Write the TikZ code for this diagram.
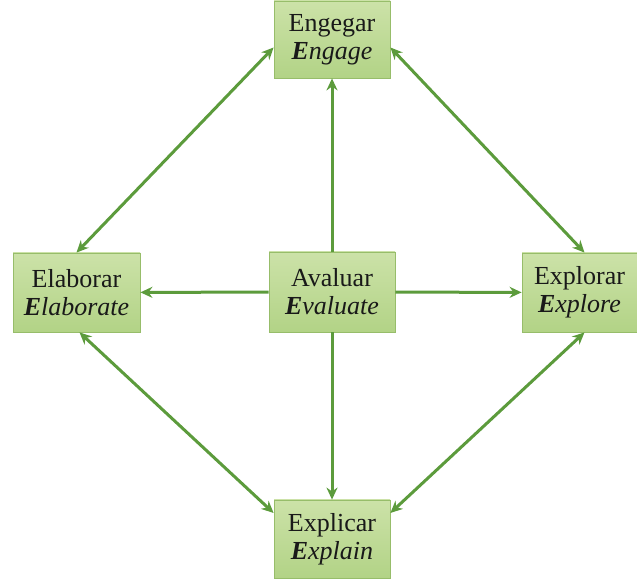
\documentclass[tikz,border=0pt]{standalone}
\usepackage{fontspec}
\setmainfont{Liberation Serif}
\usepackage{tikz}
\usetikzlibrary{arrows.meta, positioning}

\definecolor{boxtop}{HTML}{CCE2A8}
\definecolor{boxbot}{HTML}{B2D386}
\definecolor{boxline}{HTML}{97BD6A}
\definecolor{arrowgreen}{HTML}{5C9B3C}

\tikzset{
    fase/.style={draw=boxline, line width=0.8pt, top color=boxtop, bottom color=boxbot,
        minimum width=116pt, minimum height=77pt, align=center, inner sep=2pt,
        font=\fontsize{26}{28}\selectfont, text=black!90},
    seta/.style={arrowgreen, line width=3pt}
}
\newcommand{\eng}[2]{{\bfseries\itshape #1}{\itshape #2}}

\begin{document}
\begin{tikzpicture}[x=1pt, y=1pt, >={Stealth[length=12pt, width=11pt]}]
    \useasboundingbox (0,0) rectangle (637,580);

    % Fases
    \node[fase, minimum width=126pt, minimum height=80pt] (avaluar) at (332,288) {Avaluar\\ \eng{E}{valuate}};
    \node[fase] (engegar) at (332,540.5) {Engegar\\ \eng{E}{ngage}};
    \node[fase, minimum width=127pt, minimum height=79pt] (elaborar) at (76.5,287.5) {Elaborar\\ \eng{E}{laborate}};
    \node[fase, minimum width=115pt, minimum height=79pt] (explorar) at (579.5,287.5) {Explorar\\ \eng{E}{xplore}};
    \node[fase, minimum height=78pt] (explicar) at (332,41) {Explicar\\ \eng{E}{xplain}};

    % Avaluar cap a totes
    \draw[seta, ->] (avaluar) -- (engegar);
    \draw[seta, ->] (avaluar) -- (elaborar);
    \draw[seta, ->] (avaluar) -- (explorar);
    \draw[seta, ->] (avaluar) -- (explicar);

    % Cicle exterior
    \draw[seta, <->] ([yshift=-8pt]engegar.west) -- (elaborar.north);
    \draw[seta, <->] ([yshift=-8pt]engegar.east) -- ([xshift=5pt]explorar.north);
    \draw[seta, <->] ([xshift=3pt]elaborar.south) -- ([yshift=26pt]explicar.west);
    \draw[seta, <->] ([xshift=5pt]explorar.south) -- ([yshift=26pt]explicar.east);
\end{tikzpicture}
\end{document}
